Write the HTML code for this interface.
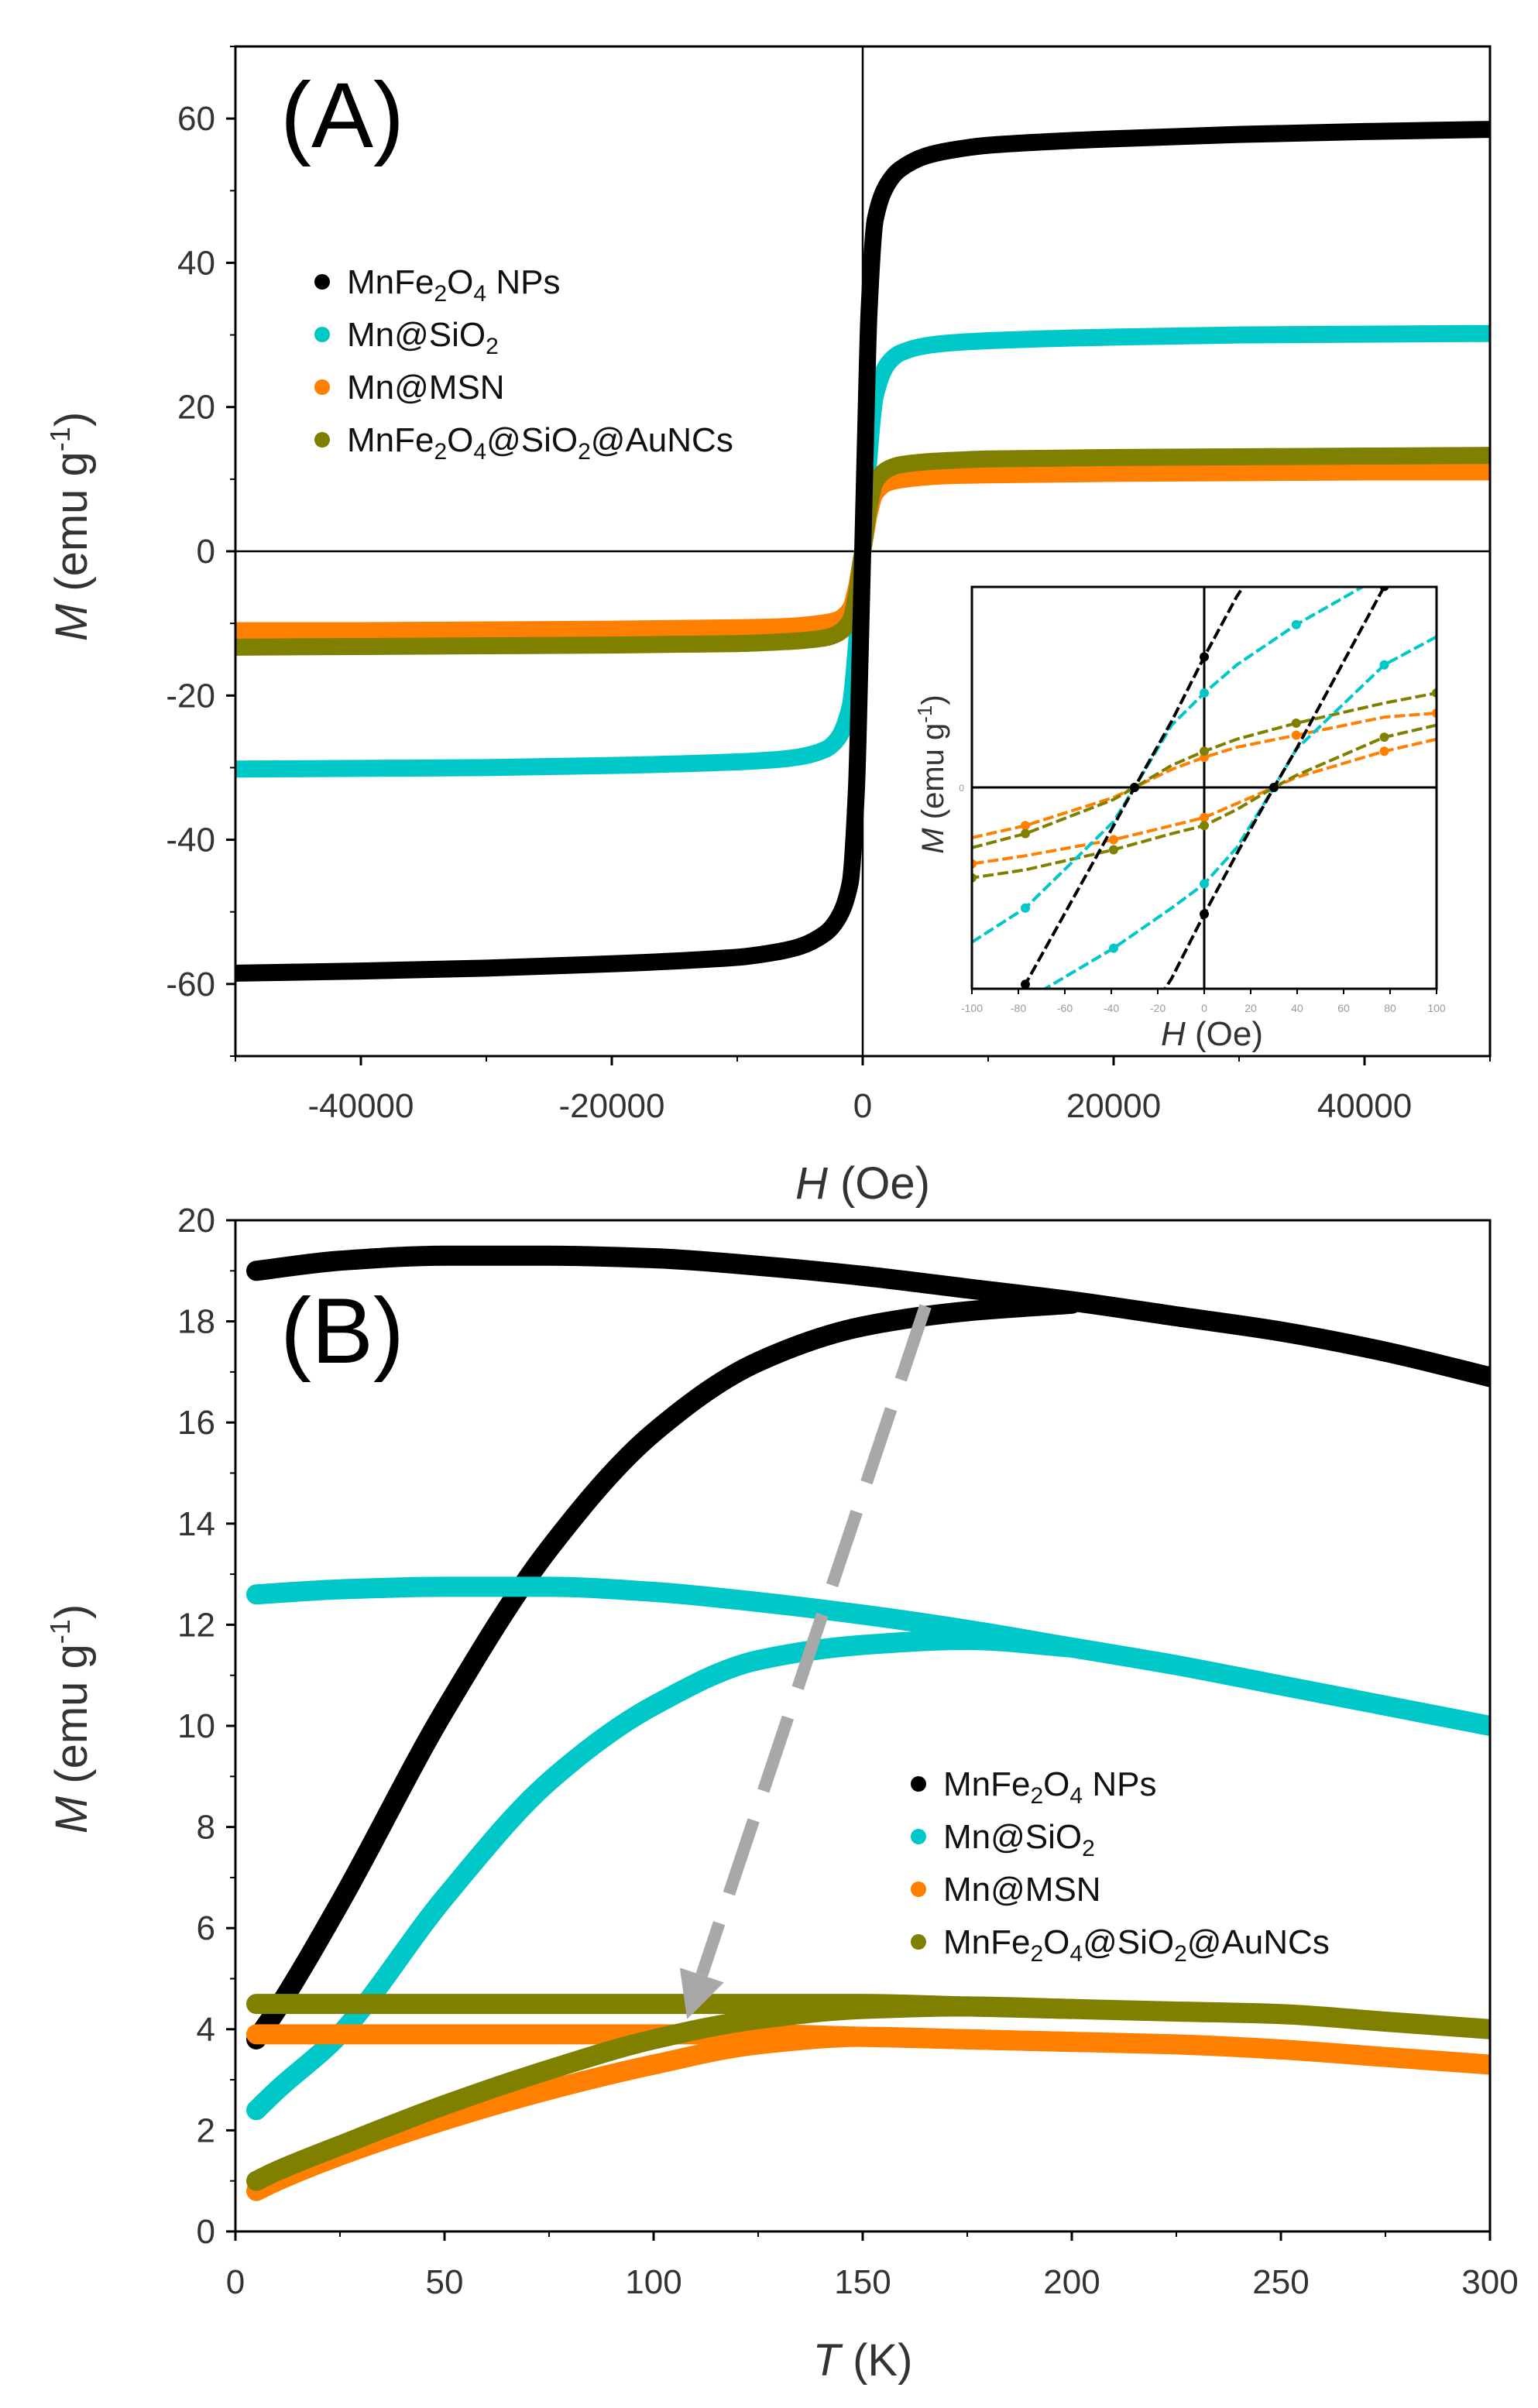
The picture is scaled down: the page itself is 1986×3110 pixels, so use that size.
<!DOCTYPE html>
<html><head><meta charset="utf-8"><style>
html,body{margin:0;padding:0;background:#fff}
svg{display:block}
text{font-family:"Liberation Sans",sans-serif}
</style></head><body>
<svg id="fig" width="1986" height="3110" viewBox="0 0 1986 3110" xmlns="http://www.w3.org/2000/svg">
<defs>
<clipPath id="clipA"><rect x="304" y="60" width="1620" height="1304"/></clipPath>
<clipPath id="clipI"><rect x="1255" y="758" width="600" height="519"/></clipPath>
<clipPath id="clipB"><rect x="304" y="1576" width="1620" height="1306"/></clipPath>
</defs>
<g id="panelA"></g>
<g id="inset"></g>
<g id="panelB"></g>
</svg>
<script>
// ---------- Panel A data ----------
const hA = [-50000,-40000,-30000,-20000,-10000,-7000,-5000,-3000,-2000,-1000,-500,-200,0,200,500,1000,2000,3000,5000,7000,10000,20000,30000,40000,50000];
const mA_mnfe = [-58.5,-58.2,-57.8,-57.2,-56.3,-55.6,-54.8,-53,-51,-46,-33,-14,0,14,33,46,51,53,54.8,55.6,56.3,57.2,57.8,58.2,58.5];
const mA_sio2 = [-30.2,-30.1,-30,-29.7,-29.2,-28.9,-28.5,-27.5,-26,-21.5,-13,-5,0,5,13,21.5,26,27.5,28.5,28.9,29.2,29.7,30,30.1,30.2];
const mA_msn  = [-11,-11,-10.9,-10.8,-10.6,-10.5,-10.3,-9.9,-9.5,-8,-5,-2,0,2,5,8,9.5,9.9,10.3,10.5,10.6,10.8,10.9,11,11];
const mA_au   = [-13.3,-13.2,-13.1,-13,-12.8,-12.6,-12.4,-12,-11.4,-9.6,-6,-2.4,0,2.4,6,9.6,11.4,12,12.4,12.6,12.8,13,13.1,13.2,13.3];
const xTicksA = [-40000,-20000,0,20000,40000];
const yTicksA = [-60,-40,-20,0,20,40,60];
// ---------- Inset data ----------
const hI_asc = [-100,-77,-39,-30,-14,0,14,39.6,77.5,100];
const hI_desc = [100,77.5,39.6,30,14,0,-14,-39,-77,-100];
const mI_mnfe_asc = [-1.35,-0.98,-0.19,0,0.33,0.65,0.95,1.4,2.1,2.5];
const mI_mnfe_desc = [1.35,1.0,0.19,0,-0.33,-0.63,-0.95,-1.4,-2.1,-2.5];
const mI_sio2_asc = [-0.77,-0.6,-0.17,0,0.31,0.47,0.61,0.81,1.06,1.2];
const mI_sio2_desc = [0.75,0.61,0.19,0,-0.3,-0.48,-0.6,-0.8,-1.06,-1.2];
const mI_msn_asc = [-0.25,-0.19,-0.05,0,0.09,0.15,0.2,0.26,0.35,0.37];
const mI_msn_desc = [0.24,0.18,0.05,0,-0.08,-0.15,-0.19,-0.26,-0.34,-0.38];
const mI_au_asc = [-0.3,-0.23,-0.06,0,0.11,0.18,0.24,0.32,0.42,0.47];
const mI_au_desc = [0.31,0.25,0.06,0,-0.11,-0.19,-0.23,-0.31,-0.41,-0.45];
const xTicksI = [-100,-80,-60,-40,-20,0,20,40,60,80,100];
// ---------- Panel B data ----------
const tFC = [5,25,50,75,100,125,150,175,200,225,250,275,300];
const mFC_mnfe = [19.0,19.2,19.3,19.3,19.25,19.1,18.9,18.65,18.4,18.1,17.8,17.4,16.9];
const mFC_sio2 = [12.6,12.7,12.75,12.75,12.65,12.45,12.2,11.9,11.55,11.2,10.8,10.4,10.0];
const mFC_msn  = [3.9,3.9,3.9,3.9,3.9,3.9,3.85,3.8,3.75,3.7,3.6,3.45,3.3];
const mFC_au   = [4.5,4.5,4.5,4.5,4.5,4.5,4.5,4.45,4.4,4.35,4.3,4.15,4.0];
const tZFC = [5,10,25,50,75,100,125,150,175,200];
const mZFC_mnfe = [3.8,4.4,6.5,10.3,13.5,15.8,17.2,17.9,18.2,18.35];
const mZFC_sio2 = [2.4,2.8,3.9,6.6,8.9,10.4,11.3,11.6,11.7,11.55];
const mZFC_msn  = [0.8,1.0,1.5,2.2,2.8,3.3,3.7,3.85,3.8,3.75];
const mZFC_au   = [1.0,1.2,1.7,2.5,3.2,3.8,4.2,4.4,4.45,4.4];
const xTicksB = [0,50,100,150,200,250,300];
const yTicksB = [0,2,4,6,8,10,12,14,16,18,20];
const arrowStart = [165,18.3];
const arrowEnd = [108,4.2];

const NS="http://www.w3.org/2000/svg";
function mk(tag,parent,attrs){const e=document.createElementNS(NS,tag);for(const k in attrs)e.setAttribute(k,attrs[k]);parent.appendChild(e);return e;}
const COL={k:"#000000",c:"#00c8c8",o:"#ff8000",g:"#808000"};

const AX=v=>304+(v+50000)/100000*1620, AY=v=>60+(70-v)/140*1304;
const IX=v=>1255+(v+100)/200*600, IY=v=>1017-v*259.5;
const BX=v=>304+v/300*1620, BY=v=>2882-v/20*1306;

// monotone cubic path through screen points (sorted by x)
function smoothPath(P){
  const n=P.length; if(n<3) return "M"+P.map(p=>p.join(",")).join("L");
  const d=[],m=[];
  for(let i=0;i<n-1;i++){d.push((P[i+1][1]-P[i][1])/(P[i+1][0]-P[i][0]));}
  m[0]=d[0]; m[n-1]=d[n-2];
  for(let i=1;i<n-1;i++){ m[i]=(d[i-1]*d[i]<=0)?0:(2/(1/d[i-1]+1/d[i])); }
  let s="M"+P[0][0]+","+P[0][1];
  for(let i=0;i<n-1;i++){
    const h=(P[i+1][0]-P[i][0])/3;
    s+=" C"+(P[i][0]+h)+","+(P[i][1]+m[i]*h)+" "+(P[i+1][0]-h)+","+(P[i+1][1]-m[i+1]*h)+" "+P[i+1][0]+","+P[i+1][1];
  }
  return s;
}

function txt(parent,x,y,s,size,anchor,fill){const t=mk("text",parent,{x:x,y:y,"font-size":size,"text-anchor":anchor||"middle",fill:fill||"#333"});t.textContent=s;return t;}

// ===== Panel A =====
const A=document.getElementById("panelA");
let el;
const gA=mk("g",A,{"clip-path":"url(#clipA)"});
el=mk("line",gA,{x1:AX(0),y1:60,x2:AX(0),y2:1364,stroke:"#000","stroke-width":2.5});


el=mk("line",gA,{x1:304,y1:AY(0),x2:1924,y2:AY(0),stroke:"#000","stroke-width":2.5});


[[mA_sio2,COL.c,"series-mn-sio2-a"],[mA_msn,COL.o,"series-mn-msn-a"],[mA_au,COL.g,"series-mnfe2o4-sio2-aunc-a"],[mA_mnfe,COL.k,"series-mnfe2o4-a"]].forEach(s=>{
  const P=hA.map((h,i)=>[AX(h),AY(s[0][i])]);
  el=mk("path",gA,{d:smoothPath(P),fill:"none",stroke:s[1],"stroke-width":22,"stroke-linejoin":"round","stroke-linecap":"round"});
  
  
});
el=mk("rect",A,{x:304,y:60,width:1620,height:1304,fill:"none",stroke:"#000","stroke-width":3});


yTicksA.forEach(v=>{
  el=mk("line",A,{x1:292,y1:AY(v),x2:304,y2:AY(v),stroke:"#000","stroke-width":3});
  
  
  el=txt(A,278,AY(v)+15,String(v),44,"end");
  
  
});
for(let v=-70;v<=70;v+=10){if(v%20!==0){el=mk("line",A,{x1:297,y1:AY(v),x2:304,y2:AY(v),stroke:"#000","stroke-width":2});}}
for(let v=-50000;v<=50000;v+=10000){
  const maj=xTicksA.includes(v);
  el=mk("line",A,{x1:AX(v),y1:1364,x2:AX(v),y2:1364+(maj?12:7),stroke:"#000","stroke-width":maj?3:2});
  
  
}
xTicksA.forEach(v=>{el=txt(A,AX(v),1443,String(v),44);});
el=mk("text",A,{x:1114,y:1548,"font-size":58,"text-anchor":"middle",fill:"#333"});
el.innerHTML='<tspan font-style="italic">H</tspan> (Oe)';


el=mk("text",A,{x:0,y:0,"font-size":58,"text-anchor":"middle",fill:"#333",transform:"translate(112,680) rotate(-90)"});
el.innerHTML='<tspan font-style="italic">M</tspan> (emu g<tspan dy="-22" font-size="36">-1</tspan><tspan dy="22">)</tspan>';


el=txt(A,362,190,"(A)",120,"start","#000");



function legend(parent,x,y0,dy,nm){
  const items=[[COL.k,'MnFe<tspan dy="10" font-size="30">2</tspan><tspan dy="-10">O</tspan><tspan dy="10" font-size="30">4</tspan><tspan dy="-10"> NPs</tspan>'],
   [COL.c,'Mn@SiO<tspan dy="10" font-size="30">2</tspan>'],
   [COL.o,'Mn@MSN'],
   [COL.g,'MnFe<tspan dy="10" font-size="30">2</tspan><tspan dy="-10">O</tspan><tspan dy="10" font-size="30">4</tspan><tspan dy="-10">@SiO</tspan><tspan dy="10" font-size="30">2</tspan><tspan dy="-10">@AuNCs</tspan>']];
  const g=mk("g",parent,{});
  
  
  items.forEach((it,i)=>{
    const y=y0+i*dy;
    el=mk("circle",g,{cx:x,cy:y,r:10,fill:it[0]});
    
    
    el=mk("text",g,{x:x+32,y:y+15,"font-size":44,fill:"#111"});
    el.innerHTML=it[1];
    
    
  });
}
legend(A,416,364,68,"legend-a");

// ===== Inset =====
const I=document.getElementById("inset");
el=mk("rect",I,{x:1255,y:758,width:600,height:519,fill:"#fff",stroke:"none"});


const gI=mk("g",I,{"clip-path":"url(#clipI)"});
el=mk("line",gI,{x1:IX(0),y1:758,x2:IX(0),y2:1277,stroke:"#000","stroke-width":3});


el=mk("line",gI,{x1:1255,y1:IY(0),x2:1855,y2:IY(0),stroke:"#000","stroke-width":3});


[[mI_msn_asc,mI_msn_desc,COL.o,"inset-series-mn-msn"],[mI_au_asc,mI_au_desc,COL.g,"inset-series-mnfe2o4-sio2-aunc"],[mI_sio2_asc,mI_sio2_desc,COL.c,"inset-series-mn-sio2"],[mI_mnfe_asc,mI_mnfe_desc,COL.k,"inset-series-mnfe2o4"]].forEach(s=>{
  [[hI_asc,s[0]],[hI_desc,s[1]]].forEach(b=>{
    const pts=b[0].map((h,i)=>IX(h)+","+IY(b[1][i])).join(" ");
    el=mk("polyline",gI,{points:pts,fill:"none",stroke:s[2],"stroke-width":4,"stroke-dasharray":"14 5"});
    
    
    b[0].forEach((h,i)=>{if(i%2===1){
      el=mk("circle",gI,{cx:IX(h),cy:IY(b[1][i]),r:6,fill:s[2]});
      
      
    }});
  });
});
el=mk("rect",I,{x:1255,y:758,width:600,height:519,fill:"none",stroke:"#000","stroke-width":3});


xTicksI.forEach(v=>{
  el=mk("line",I,{x1:IX(v),y1:1277,x2:IX(v),y2:1284,stroke:"#000","stroke-width":2});
  
  
  el=txt(I,IX(v),1307,String(v),14,"middle","#999");
  
  
});
el=txt(I,1245,IY(0)+5,"0",12,"end","#999");


el=mk("text",I,{x:1565,y:1350,"font-size":44,"text-anchor":"middle",fill:"#333"});
el.innerHTML='<tspan font-style="italic">H</tspan> (Oe)';


el=mk("text",I,{x:0,y:0,"font-size":40,"text-anchor":"middle",fill:"#333",transform:"translate(1218,1000) rotate(-90)"});
el.innerHTML='<tspan font-style="italic">M</tspan> (emu g<tspan dy="-15" font-size="26">-1</tspan><tspan dy="15">)</tspan>';



// ===== Panel B =====
const B=document.getElementById("panelB");
const gB=mk("g",B,{"clip-path":"url(#clipB)"});
[[mFC_mnfe,mZFC_mnfe,COL.k,"series-mnfe2o4-b"],[mFC_sio2,mZFC_sio2,COL.c,"series-mn-sio2-b"],[mFC_msn,mZFC_msn,COL.o,"series-mn-msn-b"],[mFC_au,mZFC_au,COL.g,"series-mnfe2o4-sio2-aunc-b"]].forEach(s=>{
  [[tFC,s[0],"fc"],[tZFC,s[1],"zfc"]].forEach(b=>{
    const P=b[0].map((t,i)=>[BX(t),BY(b[1][i])]);
    el=mk("path",gB,{d:smoothPath(P),fill:"none",stroke:s[2],"stroke-width":26,"stroke-linejoin":"round","stroke-linecap":"round"});
    
    
  });
});
const ax1=BX(arrowStart[0]),ay1=BY(arrowStart[1]),ax2=BX(arrowEnd[0]),ay2=BY(arrowEnd[1]);
const ang=Math.atan2(ay2-ay1,ax2-ax1),L=60,W=30;
const bx=ax2-L*Math.cos(ang),by=ay2-L*Math.sin(ang);
el=mk("line",B,{x1:ax1,y1:ay1,x2:bx,y2:by,stroke:"#a8a8a8","stroke-width":16,"stroke-dasharray":"100 40"});


const px=-Math.sin(ang),py=Math.cos(ang);
el=mk("polygon",B,{points:`${ax2},${ay2} ${bx+px*W},${by+py*W} ${bx-px*W},${by-py*W}`,fill:"#a8a8a8"});


el=mk("rect",B,{x:304,y:1576,width:1620,height:1306,fill:"none",stroke:"#000","stroke-width":3});


yTicksB.forEach(v=>{
  el=mk("line",B,{x1:292,y1:BY(v),x2:304,y2:BY(v),stroke:"#000","stroke-width":3});
  
  
  el=txt(B,278,BY(v)+15,String(v),44,"end");
  
  
});
for(let v=1;v<20;v+=2){el=mk("line",B,{x1:297,y1:BY(v),x2:304,y2:BY(v),stroke:"#000","stroke-width":2});}
for(let v=0;v<=300;v+=25){
  const maj=xTicksB.includes(v);
  el=mk("line",B,{x1:BX(v),y1:2882,x2:BX(v),y2:2882+(maj?12:7),stroke:"#000","stroke-width":maj?3:2});
  
  
}
xTicksB.forEach(v=>{el=txt(B,BX(v),2962,String(v),44);});
el=mk("text",B,{x:1114,y:3068,"font-size":58,"text-anchor":"middle",fill:"#333"});
el.innerHTML='<tspan font-style="italic">T</tspan> (K)';


el=mk("text",B,{x:0,y:0,"font-size":58,"text-anchor":"middle",fill:"#333",transform:"translate(112,2220) rotate(-90)"});
el.innerHTML='<tspan font-style="italic">M</tspan> (emu g<tspan dy="-22" font-size="36">-1</tspan><tspan dy="22">)</tspan>';


el=txt(B,362,1760,"(B)",120,"start","#000");


legend(B,1186,2304,68,"legend-b");
</script>
</body></html>
